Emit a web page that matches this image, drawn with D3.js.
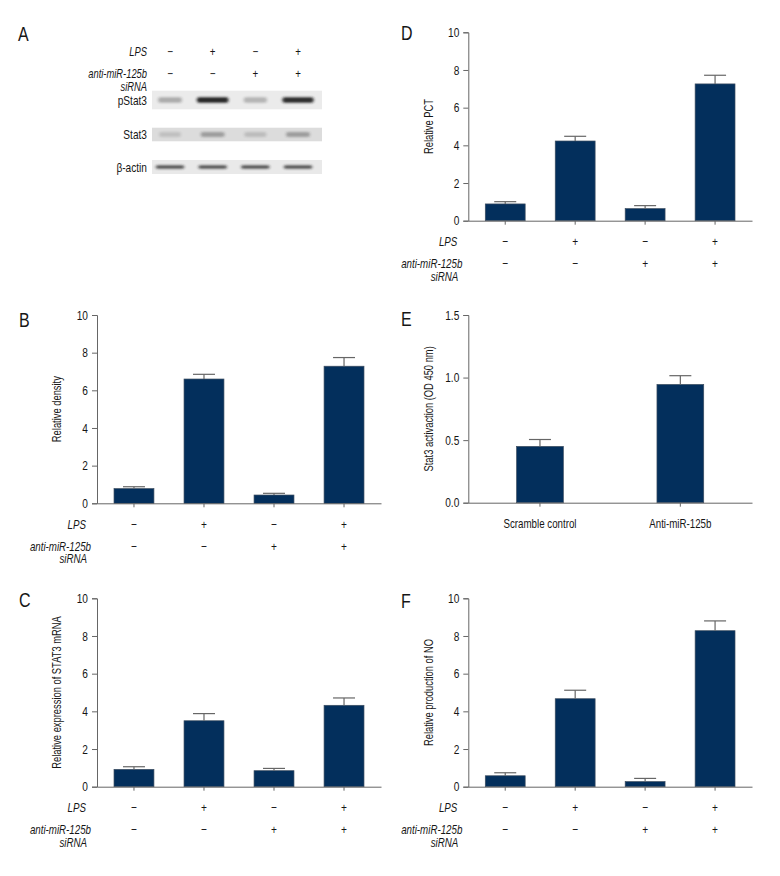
<!DOCTYPE html>
<html>
<head>
<meta charset="utf-8">
<script src="https://cdn.jsdelivr.net/npm/d3@7"></script>
<style>
  html, body { margin: 0; padding: 0; background: #fff; }
  svg { display: block; }
  text { font-family: "Liberation Sans", Arial, sans-serif; fill: #161616; }
</style>
</head>
<body>
<svg id="chart" width="780" height="876"></svg>
<script>
// ---------------- DATA ----------------
const groups = ["G1", "G2", "G3", "G4"];
const lpsSigns = ["−", "+", "−", "+"];
const antiSigns = ["−", "−", "+", "+"];

const blotRows = ["pStat3", "Stat3", "β-actin"];
const pStat3Bands = [0.30, 0.95, 0.26, 0.92];
const stat3Bands = [0.14, 0.32, 0.16, 0.32];
const actinBands = [0.72, 0.72, 0.72, 0.72];

const densityMean = [0.78, 6.60, 0.44, 7.28];
const densityErr  = [0.10, 0.25, 0.09, 0.46];

const mrnaMean = [0.92, 3.50, 0.85, 4.32];
const mrnaErr  = [0.14, 0.38, 0.12, 0.39];

const pctMean = [0.89, 4.23, 0.64, 7.26];
const pctErr  = [0.12, 0.25, 0.16, 0.46];

const eCategories = ["Scramble control", "Anti-miR-125b"];
const eMean = [0.45, 0.945];
const eErr  = [0.055, 0.07];

const noMean = [0.58, 4.67, 0.27, 8.28];
const noErr  = [0.16, 0.45, 0.17, 0.52];

const ticks10 = [0, 2, 4, 6, 8, 10];
const ticksE = [0.0, 0.5, 1.0, 1.5];

// ---------------- STYLE ----------------
const BAR = "#032f5c";
const AXIS = "#666";
const SX = 0.78; // condensed look
const svg = d3.select("#chart");

function txt(g, x, y, s, o = {}) {
  const t = g.append("text")
    .attr("transform", `translate(${x},${y}) scale(${SX},1)`)
    .attr("dy", o.dy === undefined ? "0.35em" : o.dy)
    .attr("text-anchor", o.anchor || "start")
    .attr("font-size", o.size || 12)
    .text(s);
  if (o.italic) t.attr("font-style", "italic");
  if (o.fill) t.attr("fill", o.fill);
  return t;
}

const defs = svg.append("defs");
defs.append("filter").attr("id", "blur").attr("x", "-30%").attr("y", "-100%").attr("width", "160%").attr("height", "300%")
  .append("feGaussianBlur").attr("stdDeviation", "1.6 1.0");

function letter(t, x, y) {
  txt(svg, x, y, t, { size: 20.5, dy: 0 });
}

// ---------------- PANEL A ----------------
(function panelA() {
  letter("A", 18, 41);
  const lane = d3.scalePoint().domain(groups).range([170, 298]);
  const g = svg.append("g");
  const rows = [
    { label: ["LPS"], y: 52, signs: lpsSigns },
    { label: ["anti-miR-125b", "siRNA"], y: 74, signs: antiSigns }
  ];
  rows.forEach(r => {
    r.label.forEach((l, i) => {
      txt(g, 147, r.y + i * 12.5, l, { anchor: "end", size: 12, italic: true });
    });
    r.signs.forEach((s, i) => {
      txt(g, lane(groups[i]), r.y, s, { anchor: "middle", size: 12.5, fill: "#333" });
    });
  });
  const blots = [
    { name: blotRows[0], y0: 90.7, h: 18.6, bg: "#ebebeb", bands: pStat3Bands, bh: 5.5 },
    { name: blotRows[1], y0: 127.7, h: 13.6, bg: "#dcdcdc", bands: stat3Bands, bh: 5 },
    { name: blotRows[2], y0: 160, h: 14, bg: "#e9e9e9", bands: actinBands, bh: 3.6 }
  ];
  blots.forEach(b => {
    g.append("rect").attr("x", 152).attr("y", b.y0).attr("width", 170).attr("height", b.h).attr("fill", b.bg);
    txt(g, 147, b.y0 + b.h / 2, b.name, { anchor: "end", size: 13 });
    g.selectAll(null).data(groups).join("rect")
      .attr("x", (d, i) => lane(d) - (10 + 6 * b.bands[i]))
      .attr("width", (d, i) => 2 * (10 + 6 * b.bands[i]))
      .attr("y", b.y0 + b.h / 2 - b.bh / 2)
      .attr("height", b.bh)
      .attr("rx", 2)
      .attr("fill", "#1a1a1a")
      .attr("opacity", (d, i) => b.bands[i])
      .attr("filter", "url(#blur)");
  });
})();

// ---------------- BAR PANELS ----------------
function barPanel(o) {
  const g = svg.append("g");
  const x = d3.scaleBand().domain(o.cats).range([o.x0, o.x1])
    .paddingInner(o.pi).paddingOuter(o.po);
  const y = d3.scaleLinear().domain(o.domain).range([o.yBot, o.yTop]);

  g.selectAll(null).data(o.cats).join("rect")
    .attr("x", d => x(d)).attr("width", x.bandwidth())
    .attr("y", (d, i) => y(o.mean[i]))
    .attr("height", (d, i) => y(0) - y(o.mean[i]))
    .attr("fill", BAR).attr("stroke", "#3c4d60").attr("stroke-width", 0.7);

  const cap = 11;
  o.cats.forEach((d, i) => {
    const cx = x(d) + x.bandwidth() / 2;
    g.append("line").attr("x1", cx).attr("x2", cx)
      .attr("y1", y(o.mean[i])).attr("y2", y(o.mean[i] + o.err[i]))
      .attr("stroke", AXIS).attr("stroke-width", 1.2);
    g.append("line").attr("x1", cx - cap).attr("x2", cx + cap)
      .attr("y1", y(o.mean[i] + o.err[i])).attr("y2", y(o.mean[i] + o.err[i]))
      .attr("stroke", AXIS).attr("stroke-width", 1.2);
  });

  const ya = g.append("g").attr("transform", `translate(${o.x0},0)`)
    .call(d3.axisLeft(y).tickValues(o.ticks).tickSize(5).tickPadding(4).tickFormat(o.fmt || d3.format("d")));
  ya.select(".domain").attr("stroke", AXIS);
  ya.selectAll(".tick line").attr("stroke", AXIS);
  ya.selectAll(".tick text").attr("font-size", 13).attr("fill", "#161616").attr("font-family", null)
    .each(function () {
      const t = d3.select(this);
      const tx = +t.attr("x");
      t.attr("x", 0).attr("transform", `translate(${tx},0) scale(${SX},1)`);
    });

  const xa = g.append("g").attr("transform", `translate(0,${o.yBot})`)
    .call(d3.axisBottom(x).tickSize(4).tickSizeOuter(0).tickFormat(""));
  xa.select(".domain").attr("stroke", AXIS);
  xa.selectAll(".tick line").attr("stroke", AXIS);

  g.append("text")
    .attr("transform", `translate(${o.x0 - 40},${(o.yTop + o.yBot) / 2}) rotate(-90) scale(${SX},1)`)
    .attr("dy", "0.35em").attr("text-anchor", "middle").attr("font-size", 12)
    .text(o.ylabel);

  if (o.signRows) {
    const rows = [
      { label: "LPS", dy: 21, dx: -11, signs: lpsSigns },
      { label: "anti-miR-125b", dy: 43, dx: -6, signs: antiSigns },
      { label: "siRNA", dy: 55.5, dx: -10, signs: null }
    ];
    rows.forEach(r => {
      txt(g, o.x0 + r.dx, o.yBot + r.dy, r.label, { anchor: "end", size: 12.5, italic: true });
      if (r.signs) {
        o.cats.forEach((d, i) => {
          txt(g, x(d) + x.bandwidth() / 2, o.yBot + r.dy, r.signs[i], { anchor: "middle", size: 13, fill: "#333" });
        });
      }
    });
  } else {
    o.cats.forEach(d => {
      txt(g, x(d) + x.bandwidth() / 2, o.yBot + 21, d, { anchor: "middle", size: 12.5 });
    });
  }

  letter(o.letter, o.lx, o.ly);
}

const fourBand = { pi: 0.43, po: 0.243 };

barPanel({ letter: "B", lx: 19, ly: 327, cats: groups, mean: densityMean, err: densityErr,
  x0: 97, x1: 381, yTop: 315, yBot: 503.3, domain: [0, 10], ticks: ticks10,
  ylabel: "Relative density", signRows: true, ...fourBand });

barPanel({ letter: "C", lx: 19, ly: 607, cats: groups, mean: mrnaMean, err: mrnaErr,
  x0: 97, x1: 381, yTop: 598.3, yBot: 786.7, domain: [0, 10], ticks: ticks10,
  ylabel: "Relative expression of STAT3 mRNA", signRows: true, ...fourBand });

barPanel({ letter: "D", lx: 401, ly: 40, cats: groups, mean: pctMean, err: pctErr,
  x0: 468.3, x1: 752, yTop: 32.3, yBot: 220.7, domain: [0, 10], ticks: ticks10,
  ylabel: "Relative PCT", signRows: true, ...fourBand });

barPanel({ letter: "E", lx: 401, ly: 326, cats: eCategories, mean: eMean, err: eErr,
  x0: 468.3, x1: 752, yTop: 315, yBot: 502.7, domain: [0, 1.5], ticks: ticksE,
  fmt: d3.format(".1f"), ylabel: "Stat3 activaction (OD 450 nm)", signRows: false, pi: 0.667, po: 0.344 });

barPanel({ letter: "F", lx: 401, ly: 608, cats: groups, mean: noMean, err: noErr,
  x0: 468.3, x1: 752, yTop: 598.3, yBot: 786.7, domain: [0, 10], ticks: ticks10,
  ylabel: "Relative production of NO", signRows: true, ...fourBand });
</script>
</body>
</html>
